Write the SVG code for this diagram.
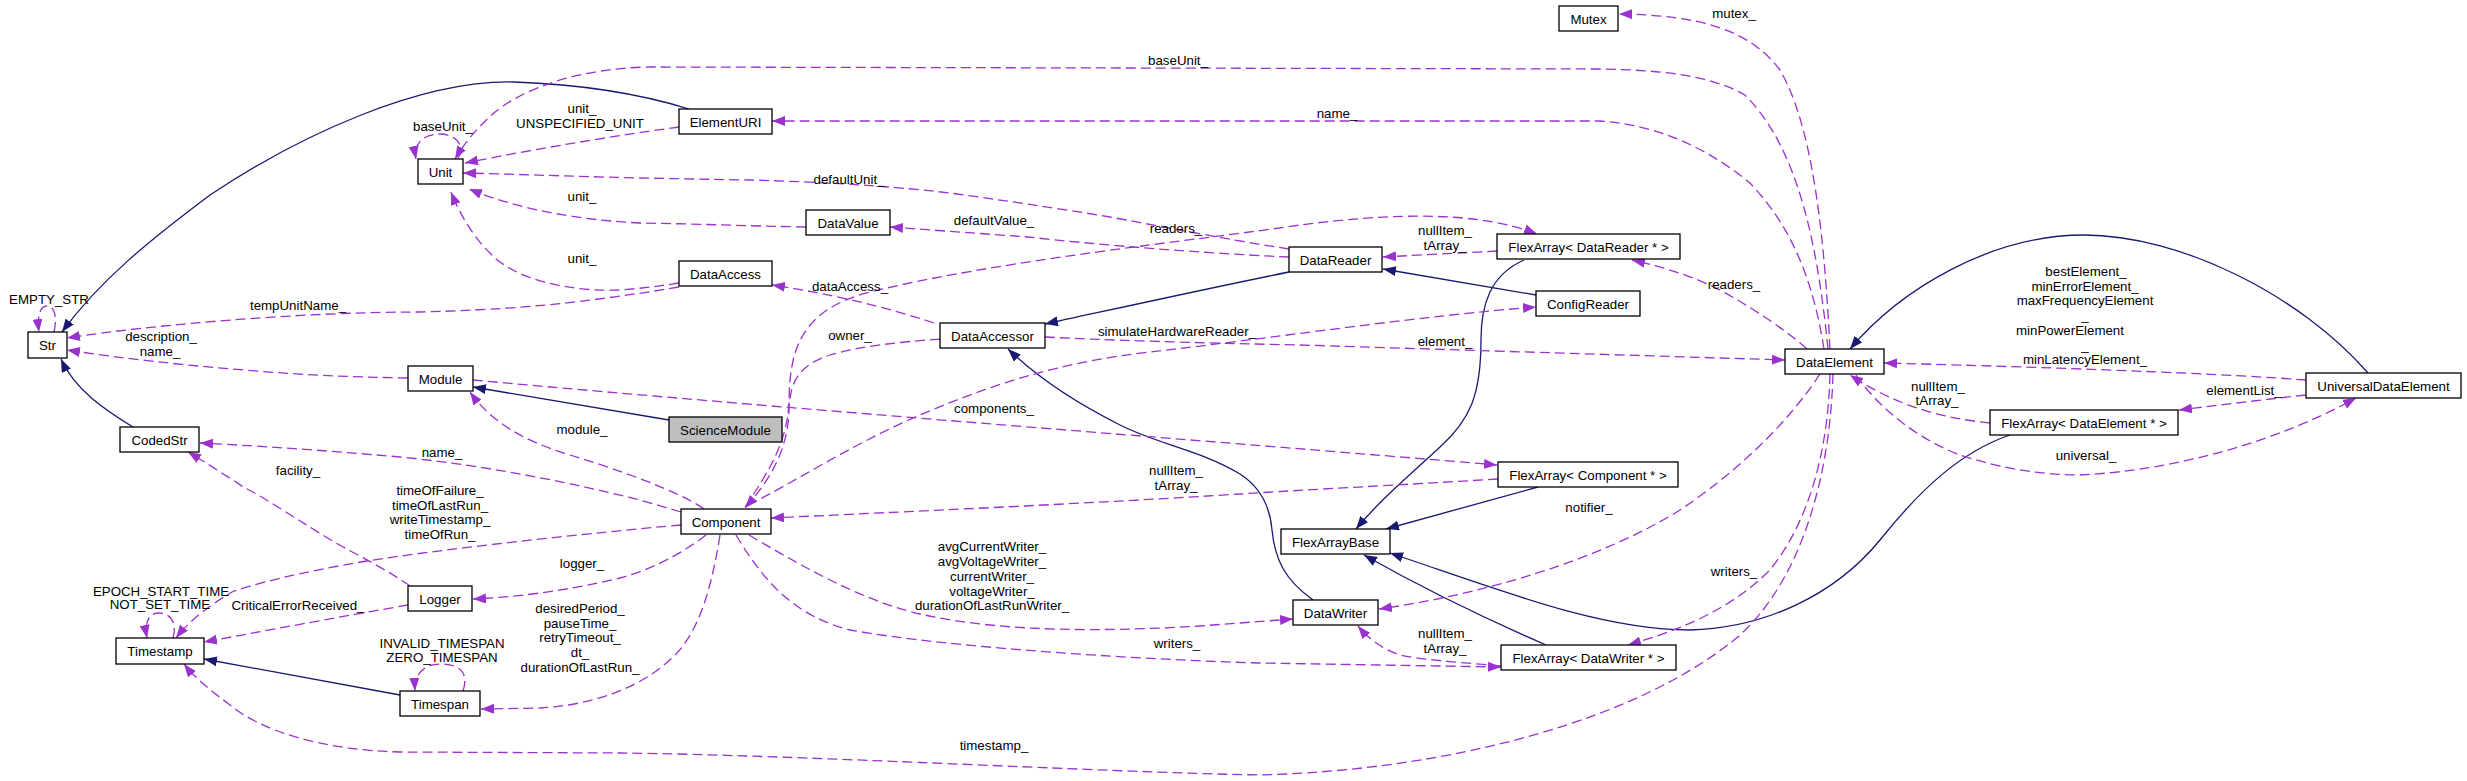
<svg xmlns="http://www.w3.org/2000/svg" width="2467" height="781" viewBox="0 0 2467 781">
<style>
.n rect{fill:#fff;stroke:#000;stroke-width:1.3}
.n.g rect{fill:#bfbfbf}
text{font-family:"Liberation Sans",Arial,Helvetica,sans-serif;font-size:13.3px;fill:#000;text-anchor:middle}
.e{fill:none;stroke:#9a32cd;stroke-width:1.3;stroke-dasharray:10,5;marker-end:url(#mu)}
.i{fill:none;stroke:#191970;stroke-width:1.3;marker-end:url(#mi)}
</style>
<defs>
<marker id="mu" markerWidth="14" markerHeight="10" refX="13" refY="5" orient="auto" markerUnits="userSpaceOnUse"><path d="M0,0 L13,5 L0,10 z" fill="#9a32cd"/></marker>
<marker id="mi" markerWidth="14" markerHeight="10" refX="13" refY="5" orient="auto" markerUnits="userSpaceOnUse"><path d="M0,0 L13,5 L0,10 z" fill="#191970"/></marker>
</defs>
<rect width="2467" height="781" fill="#fff"/>
<g id="connectors">
<!-- inheritance -->
<path class="i" d="M689,109 C660,100 600,85 514,82 C420,80 300,135 210,195 C150,240 100,280 62,332"/>
<path class="i" d="M133,427 C105,410 75,390 61,359"/>
<path class="i" d="M669,420 L473,387"/>
<path class="i" d="M1289,272 C1200,290 1110,310 1045,324"/>
<path class="i" d="M1536,295 L1383,269"/>
<path class="i" d="M1313,600 C1285,580 1275,560 1272,530 C1270,505 1260,487 1240,474 C1200,450 1160,445 1120,425 C1080,405 1040,380 1008,349"/>
<path class="i" d="M1524,260 C1490,275 1481,305 1481,340 C1481,395 1470,420 1440,447 C1410,475 1380,500 1356,529"/>
<path class="i" d="M1538,487 L1386,529"/>
<path class="i" d="M1546,645 C1500,625 1440,598 1364,555"/>
<path class="i" d="M2010,435 C1960,452 1920,490 1880,540 C1835,595 1765,628 1690,630 C1600,630 1500,590 1390,553"/>
<path class="i" d="M2368,373 C2300,295 2180,235 2084,235 C1990,235 1900,290 1850,349"/>
<path class="i" d="M400,695 L204,659"/>
<!-- usage -->
<path class="e" d="M54,332 C58,314 53,306 47,306 C40,306 37,316 39,332"/>
<path class="e" d="M458,159 C466,145 455,134 440,134 C424,134 413,143 416,159"/>
<path class="e" d="M173,638 C178,620 168,613 159,613 C149,613 144,622 147,638"/>
<path class="e" d="M463,691 C470,670 456,664 441,664 C425,664 414,673 415,691"/>
<path class="e" d="M1828,349 C1818,250 1800,150 1745,95 C1710,75 1660,70 1600,69 L650,67 C580,68 525,88 495,112 C478,127 465,142 455,159"/>
<path class="e" d="M1824,349 C1810,260 1780,215 1750,183 C1710,150 1660,125 1600,121 L772,121"/>
<path class="e" d="M1830,349 C1825,250 1815,130 1780,70 C1750,30 1700,15 1619,14"/>
<path class="e" d="M1807,349 C1780,325 1740,300 1710,285 C1680,272 1655,265 1632,260"/>
<path class="e" d="M1045,337 C1100,340 1200,343 1300,345 L1785,360"/>
<path class="e" d="M2306,380 C2200,372 2000,366 1884,363"/>
<path class="e" d="M1990,423 C1940,418 1895,405 1850,375"/>
<path class="e" d="M1856,375 C1880,410 1920,440 1960,455 C2000,468 2040,475 2080,475 C2180,470 2280,440 2356,398"/>
<path class="e" d="M2306,395 C2260,400 2220,405 2179,410"/>
<path class="e" d="M1820,374 C1790,420 1740,470 1680,510 C1600,560 1480,595 1379,609"/>
<path class="e" d="M1830,374 C1828,450 1810,520 1770,570 C1730,610 1680,630 1628,645"/>
<path class="e" d="M1833,374 C1830,480 1800,580 1740,635 C1640,720 1450,770 1260,775 C1100,772 800,755 620,753 L400,752 C320,750 260,730 230,705 C210,690 195,678 184,664"/>
<path class="e" d="M745,507 C770,470 788,440 789,400 C790,350 800,310 870,292 C1000,260 1200,240 1300,225 C1400,212 1480,212 1537,234"/>
<path class="e" d="M940,339 C900,342 860,346 830,355 C800,365 790,380 789,410 C788,450 770,480 745,508"/>
<path class="e" d="M748,505 C790,485 850,445 920,415 C990,385 1060,362 1150,352 C1280,337 1420,316 1536,307"/>
<path class="e" d="M934,323 C880,305 820,292 772,285"/>
<path class="e" d="M1289,257 C1200,253 1100,245 1028,237 L890,227"/>
<path class="e" d="M1289,249 C1230,240 1170,228 1110,217 C1050,207 1000,200 950,193 C880,185 820,182 750,180 L640,178 C560,176 510,174 463,173"/>
<path class="e" d="M806,227 C750,226 700,224 640,223 C580,220 520,210 469,189"/>
<path class="e" d="M679,283 C660,286 645,288 620,290 C570,292 520,280 495,258 C475,240 460,215 451,192"/>
<path class="e" d="M679,287 C660,290 650,292 620,296 C560,305 500,310 420,312 C300,312 150,325 67,338"/>
<path class="e" d="M679,127 C620,135 540,148 465,163"/>
<path class="e" d="M408,378 C350,377 300,375 245,370 C180,365 120,358 67,350"/>
<path class="e" d="M473,380 C800,410 1200,440 1497,465"/>
<path class="e" d="M1498,479 C1400,485 1300,490 1240,494 C1100,503 900,512 771,518"/>
<path class="e" d="M704,509 C680,492 620,470 570,455 C520,440 490,420 470,392"/>
<path class="e" d="M681,512 L640,500 C560,480 480,465 400,457 C320,450 260,446 200,443"/>
<path class="e" d="M681,525 C600,532 450,548 367,561 C300,572 250,585 232,592 C210,605 190,620 176,638"/>
<path class="e" d="M706,535 C680,555 650,570 620,578 C570,590 520,597 473,599"/>
<path class="e" d="M720,535 C712,585 700,630 675,655 C640,690 590,705 540,708 L481,709"/>
<path class="e" d="M749,535 C800,565 860,600 920,614 C1000,632 1100,632 1200,626 L1293,619"/>
<path class="e" d="M736,535 C760,575 790,615 850,630 C950,648 1150,660 1260,663 L1501,667"/>
<path class="e" d="M410,586 C380,565 350,552 326,537 C290,515 260,495 245,488 C225,475 205,462 188,452"/>
<path class="e" d="M408,605 C350,615 280,628 204,642"/>
<path class="e" d="M1497,251 C1460,253 1420,255 1383,257"/>
<path class="e" d="M1501,666 C1470,663 1430,661 1400,655 C1380,648 1368,638 1358,626"/>
</g>
<g id="labels">
<text x="49" y="304">EMPTY_STR</text>
<text x="298" y="310">tempUnitName_</text>
<text x="161" y="341">description_</text>
<text x="160" y="356">name_</text>
<text x="443" y="131">baseUnit_</text>
<text x="582" y="113">unit_</text>
<text x="580" y="128">UNSPECIFIED_UNIT</text>
<text x="582" y="201">unit_</text>
<text x="582" y="263">unit_</text>
<text x="582" y="434">module_</text>
<text x="442" y="457">name_</text>
<text x="298" y="475">facility_</text>
<text x="440" y="495">timeOfFailure_</text>
<text x="440" y="510">timeOfLastRun_</text>
<text x="440" y="524">writeTimestamp_</text>
<text x="440" y="539">timeOfRun_</text>
<text x="582" y="568">logger_</text>
<text x="161" y="596">EPOCH_START_TIME</text>
<text x="160" y="609">NOT_SET_TIME</text>
<text x="298" y="610">CriticalErrorReceived_</text>
<text x="580" y="613">desiredPeriod_</text>
<text x="580" y="628">pauseTime_</text>
<text x="580" y="642">retryTimeout_</text>
<text x="580" y="657">dt_</text>
<text x="580" y="672">durationOfLastRun_</text>
<text x="442" y="648">INVALID_TIMESPAN</text>
<text x="442" y="662">ZERO_TIMESPAN</text>
<text x="1178" y="65">baseUnit_</text>
<text x="849" y="184">defaultUnit_</text>
<text x="994" y="225">defaultValue_</text>
<text x="1176" y="233">readers_</text>
<text x="850" y="291">dataAccess_</text>
<text x="850" y="340">owner_</text>
<text x="1177" y="336">simulateHardwareReader_</text>
<text x="994" y="413">components_</text>
<text x="1176" y="475">nullItem_</text>
<text x="1176" y="490">tArray_</text>
<text x="992" y="551">avgCurrentWriter_</text>
<text x="992" y="566">avgVoltageWriter_</text>
<text x="992" y="581">currentWriter_</text>
<text x="992" y="596">voltageWriter_</text>
<text x="992" y="610">durationOfLastRunWriter_</text>
<text x="1177" y="648">writers_</text>
<text x="994" y="750">timestamp_</text>
<text x="1734" y="18">mutex_</text>
<text x="1337" y="118">name_</text>
<text x="1445" y="235">nullItem_</text>
<text x="1445" y="250">tArray_</text>
<text x="1734" y="289">readers_</text>
<text x="1445" y="346">element_</text>
<text x="1589" y="512">notifier_</text>
<text x="1734" y="576">writers_</text>
<text x="1445" y="638">nullItem_</text>
<text x="1445" y="653">tArray_</text>
<text x="2086" y="276">bestElement_</text>
<text x="2085" y="291">minErrorElement_</text>
<text x="2085" y="305">maxFrequencyElement</text>
<text x="2085" y="320">_</text>
<text x="2070" y="335">minPowerElement</text>
<text x="2085" y="350">_</text>
<text x="2085" y="364">minLatencyElement_</text>
<text x="2244" y="395">elementList_</text>
<text x="1938" y="391">nullItem_</text>
<text x="1937" y="405">tArray_</text>
<text x="2086" y="460">universal_</text>
</g>
<g id="Str" class="n"><rect x="28" y="332" width="39" height="26"/><text x="47.5" y="350">Str</text></g>
<g id="Unit" class="n"><rect x="418" y="159" width="45" height="25"/><text x="440.5" y="176.5">Unit</text></g>
<g id="Module" class="n"><rect x="408" y="366" width="65" height="25"/><text x="440.5" y="383.5">Module</text></g>
<g id="ScienceModule" class="n g"><rect x="669" y="417" width="113" height="25"/><text x="725.5" y="434.5">ScienceModule</text></g>
<g id="Component" class="n"><rect x="681" y="509" width="90" height="25"/><text x="726" y="526.5">Component</text></g>
<g id="CodedStr" class="n"><rect x="120" y="427" width="79" height="25"/><text x="159.5" y="444.5">CodedStr</text></g>
<g id="Timestamp" class="n"><rect x="116" y="638" width="88" height="26"/><text x="160" y="656">Timestamp</text></g>
<g id="Logger" class="n"><rect x="408" y="586" width="64" height="25"/><text x="440" y="603.5">Logger</text></g>
<g id="Timespan" class="n"><rect x="400" y="691" width="80" height="25"/><text x="440" y="708.5">Timespan</text></g>
<g id="ElementURI" class="n"><rect x="679" y="109" width="93" height="25"/><text x="725.5" y="126.5">ElementURI</text></g>
<g id="DataValue" class="n"><rect x="806" y="210" width="84" height="25"/><text x="848" y="227.5">DataValue</text></g>
<g id="DataAccess" class="n"><rect x="679" y="261" width="93" height="25"/><text x="725.5" y="278.5">DataAccess</text></g>
<g id="DataAccessor" class="n"><rect x="940" y="323" width="105" height="25"/><text x="992.5" y="340.5">DataAccessor</text></g>
<g id="Mutex" class="n"><rect x="1559" y="6" width="59" height="25"/><text x="1588.5" y="23.5">Mutex</text></g>
<g id="FlexArrayDataReader" class="n"><rect x="1497" y="234" width="183" height="25"/><text x="1588.5" y="251.5">FlexArray&lt; DataReader * &gt;</text></g>
<g id="DataReader" class="n"><rect x="1289" y="247" width="93" height="25"/><text x="1335.5" y="264.5">DataReader</text></g>
<g id="ConfigReader" class="n"><rect x="1536" y="291" width="104" height="25"/><text x="1588" y="308.5">ConfigReader</text></g>
<g id="DataElement" class="n"><rect x="1785" y="349" width="99" height="25"/><text x="1834.5" y="366.5">DataElement</text></g>
<g id="FlexArrayComponent" class="n"><rect x="1498" y="462" width="180" height="25"/><text x="1588" y="479.5">FlexArray&lt; Component * &gt;</text></g>
<g id="FlexArrayBase" class="n"><rect x="1281" y="529" width="109" height="25"/><text x="1335.5" y="546.5">FlexArrayBase</text></g>
<g id="DataWriter" class="n"><rect x="1293" y="600" width="85" height="25"/><text x="1335.5" y="617.5">DataWriter</text></g>
<g id="FlexArrayDataWriter" class="n"><rect x="1501" y="645" width="175" height="25"/><text x="1588.5" y="662.5">FlexArray&lt; DataWriter * &gt;</text></g>
<g id="UniversalDataElement" class="n"><rect x="2306" y="373" width="155" height="25"/><text x="2383.5" y="390.5">UniversalDataElement</text></g>
<g id="FlexArrayDataElement" class="n"><rect x="1990" y="410" width="188" height="25"/><text x="2084" y="427.5">FlexArray&lt; DataElement * &gt;</text></g>
</svg>
